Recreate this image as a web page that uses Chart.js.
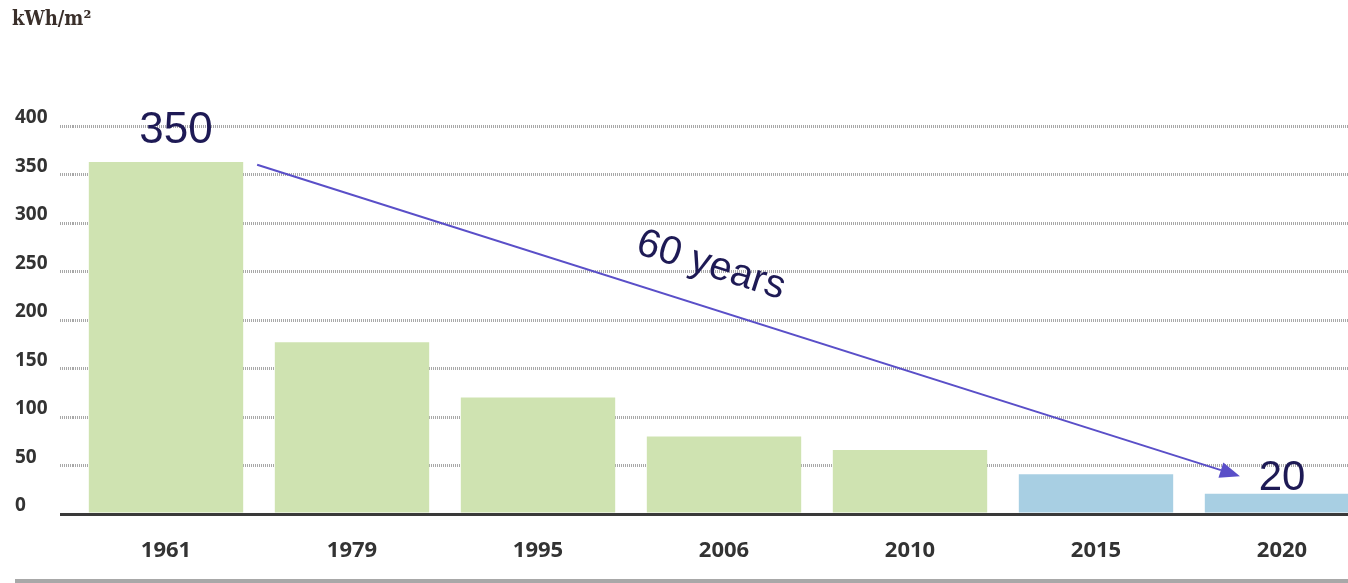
<!DOCTYPE html>
<html>
<head>
<meta charset="utf-8">
<script src="https://cdn.jsdelivr.net/npm/chart.js@4.4.1/dist/chart.umd.min.js"></script>
<style>
  html, body { margin: 0; padding: 0; background: #fff; overflow: hidden; }
  #wrap { position: relative; width: 1400px; height: 583px; }
</style>
</head>
<body>
<div id="wrap"><canvas id="myChart"></canvas></div>
<script>
const years = ['1961', '1979', '1995', '2006', '2010', '2015', '2020'];
const energyUse = [363, 177, 120, 80, 66, 41, 21];
const barColors = ['#cfe3b1', '#cfe3b1', '#cfe3b1', '#cfe3b1', '#cfe3b1', '#a8cfe3', '#a8cfe3'];
const yTicks = [0, 50, 100, 150, 200, 250, 300, 350, 400];

const tickFamily = "'Noto Sans', 'DejaVu Sans Condensed', sans-serif";
const xFont = { family: tickFamily, size: 22, weight: 'bold' };
const yFont = { family: tickFamily, size: 19, weight: 'bold' };
const noteColor = '#1e1a55';
const arrowColor = '#5a4fc8';

// title, zero line, bottom rule, arrow and labels
const extras = {
  id: 'extras',
  afterDatasetsDraw(chart) {
    const ctx = chart.ctx;
    const y0 = chart.scales.y.getPixelForValue(0);
    ctx.save();
    ctx.strokeStyle = '#3a3a3a';
    ctx.lineWidth = 3;
    ctx.beginPath();
    ctx.moveTo(60, y0 + 0.5);
    ctx.lineTo(chart.width, y0 + 0.5);
    ctx.stroke();
    ctx.restore();
  },
  afterDraw(chart) {
    const ctx = chart.ctx;
    const x = chart.scales.x, y = chart.scales.y;
    ctx.save();

    ctx.fillStyle = '#3a2f2a';
    ctx.font = "bold 20px 'DejaVu Serif Condensed', 'DejaVu Serif', serif";
    ctx.textBaseline = 'alphabetic';
    ctx.textAlign = 'left';
    ctx.fillText('kWh/m²', 12, 25);

    ctx.fillStyle = '#a8a8a8';
    ctx.fillRect(15, 579, chart.width, 4);

    // arrow 1961 -> 2020
    const sx = x.getPixelForValue(0.49), sy = y.getPixelForValue(360);
    const ex = x.getPixelForValue(5.774), ey = y.getPixelForValue(39);
    const ang = Math.atan2(ey - sy, ex - sx);
    const head = 20, half = 8;
    const bx = ex - head * Math.cos(ang), by = ey - head * Math.sin(ang);
    ctx.strokeStyle = arrowColor;
    ctx.fillStyle = arrowColor;
    ctx.lineWidth = 2;
    ctx.beginPath();
    ctx.moveTo(sx, sy);
    ctx.lineTo(bx, by);
    ctx.stroke();
    ctx.beginPath();
    ctx.moveTo(ex, ey);
    ctx.lineTo(bx + half * Math.sin(ang), by - half * Math.cos(ang));
    ctx.lineTo(bx - half * Math.sin(ang), by + half * Math.cos(ang));
    ctx.closePath();
    ctx.fill();

    ctx.fillStyle = noteColor;
    ctx.textAlign = 'center';
    ctx.textBaseline = 'middle';
    ctx.font = "44px 'Liberation Sans', Arial, sans-serif";
    ctx.fillText('350', x.getPixelForValue(0.054), y.getPixelForValue(395));
    ctx.font = "42px 'Liberation Sans', Arial, sans-serif";
    ctx.fillText('20', x.getPixelForValue(6.0), y.getPixelForValue(37));

    ctx.translate(x.getPixelForValue(2.93), y.getPixelForValue(256));
    ctx.rotate(ang);
    ctx.font = "40px 'Liberation Sans', Arial, sans-serif";
    ctx.fillText('60 years', 0, 0);
    ctx.restore();
  }
};

new Chart(document.getElementById('myChart'), {
  type: 'bar',
  data: {
    labels: years,
    datasets: [{
      data: energyUse,
      backgroundColor: barColors,
      borderWidth: 0,
      categoryPercentage: 1,
      barPercentage: 0.83
    }]
  },
  options: {
    responsive: true,
    maintainAspectRatio: false,
    animation: false,
    layout: { padding: { left: 15, top: 126, right: 25, bottom: 0 } },
    plugins: {
      legend: { display: false },
      tooltip: { enabled: false },
      title: { display: false }
    },
    scales: {
      x: {
        grid: { display: false },
        border: { display: false },
        ticks: { color: '#333', font: xFont, padding: 16 },
        afterFit: s => { s.height = 69; }
      },
      y: {
        min: 0,
        max: 400,
        afterBuildTicks: s => { s.ticks = yTicks.map(v => ({ value: v })); },
        afterFit: s => { s.width = 58; },
        border: { display: false, dash: [1, 1] },
        grid: {
          color: c => (c.tick && c.tick.value === 0 ? 'transparent' : '#a8a8a8'),
          lineWidth: 3,
          tickLength: 13,
          tickBorderDash: [1, 1]
        },
        ticks: { color: '#333', font: yFont, crossAlign: 'far', labelOffset: -8, padding: 0 }
      }
    }
  },
  plugins: [extras]
});
</script>
</body>
</html>
